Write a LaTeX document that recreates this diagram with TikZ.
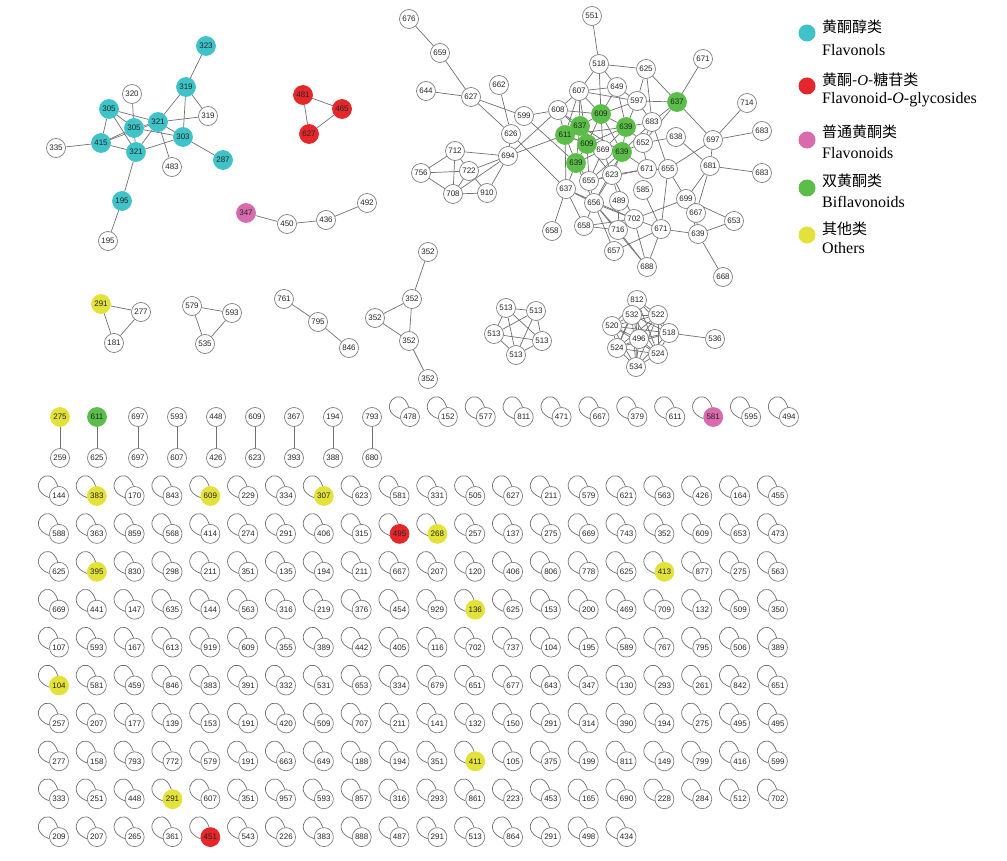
\documentclass[tikz,border=0pt]{standalone}
\usepackage{fontspec}
\setmainfont{Liberation Serif}
\newfontfamily\numfont{Liberation Sans}
\newfontfamily\cjk{Noto Sans CJK SC}
\usetikzlibrary{backgrounds}
\definecolor{fw}{HTML}{FFFFFF}\definecolor{dw}{HTML}{808080}
\definecolor{fc}{HTML}{3EC3C8}\definecolor{dc}{HTML}{3EC3C8}
\definecolor{fr}{HTML}{E5262B}\definecolor{dr}{HTML}{E5262B}
\definecolor{fp}{HTML}{D96AAE}\definecolor{dp}{HTML}{D96AAE}
\definecolor{fg}{HTML}{5BBE48}\definecolor{dg}{HTML}{5BBE48}
\definecolor{fy}{HTML}{E3E23A}\definecolor{dy}{HTML}{E3E23A}
\definecolor{edgegray}{HTML}{707070}
\tikzset{
  v/.style={circle,draw=dw,fill=white,line width=0.7pt,minimum size=19pt,inner sep=0pt,
    font={\numfont\fontsize{8pt}{8pt}\selectfont},text=black!85},
  nc/.style={fill=f#1,draw=d#1},
  e/.style={draw=edgegray,line width=0.7pt},
  legdot/.style={circle,minimum size=17pt,inner sep=0pt},
  legzh/.style={anchor=west,inner sep=0pt,font={\cjk\fontsize{15pt}{15pt}\selectfont}},
  legen/.style={anchor=west,inner sep=0pt,font={\fontsize{16pt}{16pt}\selectfont}}
}
\newcommand\mygridrow[2]{%
  \foreach \lab/\cl [count=\i from 0] in {#2} {
    \node[v,nc=\cl] (g#1-\i) at ({59+37.84*\i},{496+37.9*#1}) {\lab};
    \draw[e] (g#1-\i.190) .. controls +(160:27pt) and +(108:27pt) .. (g#1-\i.97);
  }}
\begin{document}
\begin{tikzpicture}[x=1pt,y=-1pt]
\useasboundingbox (0,0) rectangle (1007,861);
% ---------- cluster A: flavonols
\node[v,nc=c] (a323) at (206,46) {323};
\node[v,nc=c] (a319) at (186,87) {319};
\node[v] (a320) at (132,94) {320};
\node[v,nc=c] (a305) at (109,109) {305};
\node[v] (a319w) at (208,116) {319};
\node[v,nc=c] (a321) at (158,122) {321};
\node[v,nc=c] (a305c) at (134,128) {305};
\node[v,nc=c] (a303) at (183,137) {303};
\node[v,nc=c] (a415) at (101,143) {415};
\node[v] (a335) at (56,148) {335};
\node[v,nc=c] (a321b) at (136,152) {321};
\node[v] (a483) at (172,167) {483};
\node[v,nc=c] (a287) at (223,160) {287};
\node[v,nc=c] (a195) at (122,201) {195};
\node[v] (a195w) at (108,241) {195};
% red triangle
\node[v,nc=r] (r481) at (303,95) {481};
\node[v,nc=r] (r465) at (342,109) {465};
\node[v,nc=r] (r627) at (309,134) {627};
% pink chain
\node[v,nc=p] (p347) at (246,213) {347};
\node[v] (p450) at (287,224) {450};
\node[v] (p436) at (326,220) {436};
\node[v] (p492) at (367,203) {492};
% ---------- big cluster B
\node[v] (b676) at (409,19) {676};
\node[v] (b659) at (440,53) {659};
\node[v] (b644) at (426,91) {644};
\node[v] (b627) at (471,97) {627};
\node[v] (b662) at (499,85) {662};
\node[v] (b599) at (524,116) {599};
\node[v] (b626) at (511,134) {626};
\node[v] (b608) at (558,110) {608};
\node[v] (b551) at (592,16) {551};
\node[v] (b518) at (599,64) {518};
\node[v] (b625) at (646,69) {625};
\node[v] (b671t) at (703,59) {671};
\node[v] (b607) at (579,91) {607};
\node[v] (b649) at (617,87) {649};
\node[v] (b597) at (637,101) {597};
\node[v,nc=g] (b637G) at (677,102) {637};
\node[v] (b714) at (747,103) {714};
\node[v] (b683) at (652,122) {683};
\node[v] (b652) at (643,143) {652};
\node[v] (b638) at (676,137) {638};
\node[v] (b697) at (713,140) {697};
\node[v] (b683r) at (762,131) {683};
\node[v] (b669) at (603,150) {669};
\node[v] (b655) at (589,181) {655};
\node[v] (b623) at (612,175) {623};
\node[v] (b671m) at (647,169) {671};
\node[v] (b655r) at (668,169) {655};
\node[v] (b681) at (710,166) {681};
\node[v] (b683lr) at (762,173) {683};
\node[v] (b637w) at (566,189) {637};
\node[v] (b489) at (619,201) {489};
\node[v] (b585) at (643,190) {585};
\node[v] (b656) at (594,203) {656};
\node[v] (b699) at (686,199) {699};
\node[v] (b667) at (696,213) {667};
\node[v] (b653) at (734,221) {653};
\node[v] (b702) at (634,219) {702};
\node[v] (b658l) at (552,231) {658};
\node[v] (b658) at (584,226) {658};
\node[v] (b716) at (618,230) {716};
\node[v] (b671l) at (661,229) {671};
\node[v] (b639l) at (698,234) {639};
\node[v] (b657) at (614,251) {657};
\node[v] (b688) at (647,267) {688};
\node[v] (b668) at (723,277) {668};
\node[v] (b712) at (455,151) {712};
\node[v] (b694) at (508,156) {694};
\node[v] (b756) at (421,173) {756};
\node[v] (b722) at (469,171) {722};
\node[v] (b708) at (453,194) {708};
\node[v] (b910) at (487,193) {910};
\node[v,nc=g] (b609G) at (601,114) {609};
\node[v,nc=g] (b637g) at (580,126) {637};
\node[v,nc=g] (b639G) at (626,127) {639};
\node[v,nc=g] (b611) at (565,135) {611};
\node[v,nc=g] (b609g) at (587,144) {609};
\node[v,nc=g] (b639g) at (622,152) {639};
\node[v,nc=g] (b639L) at (576,163) {639};
% ---------- 352 cluster
\node[v] (c352t) at (428,252) {352};
\node[v] (c352a) at (412,299) {352};
\node[v] (c352b) at (375,318) {352};
\node[v] (c352c) at (409,341) {352};
\node[v] (c352d) at (428,379) {352};
% small triangles / chain
\node[v,nc=y] (d291) at (101,304) {291};
\node[v] (d277) at (141,312) {277};
\node[v] (d181) at (114,343) {181};
\node[v] (e579) at (192,306) {579};
\node[v] (e593) at (232,313) {593};
\node[v] (e535) at (205,344) {535};
\node[v] (f761) at (284,299) {761};
\node[v] (f795) at (318,322) {795};
\node[v] (f846) at (349,348) {846};
% K5
\node[v] (k1) at (506,308) {513};
\node[v] (k2) at (536,311) {513};
\node[v] (k3) at (494,334) {513};
\node[v] (k4) at (542,341) {513};
\node[v] (k5) at (516,355) {513};
% dense cluster m
\node[v] (m812) at (637,300) {812};
\node[v] (m532) at (632,315) {532};
\node[v] (m522) at (658,315) {522};
\node[v] (m520) at (612,326) {520};
\node[v] (m518) at (669,333) {518};
\node[v] (m524l) at (617,348) {524};
\node[v] (m524r) at (658,354) {524};
\node[v] (m534) at (636,367) {534};
\node[v] (m496) at (639,339) {496};
\node[v] (m536) at (715,339) {536};
% ---------- pairs row
\foreach \up/\uc/\dn [count=\i from 0] in {275/y/259,611/g/625,697/w/697,593/w/607,448/w/426,609/w/623,367/w/393,194/w/388,793/w/680}{
  \pgfmathsetmacro\px{\i==0 ? 60 : (\i==1 ? 97 : 138+39*(\i-2))}
  \node[v,nc=\uc] (qu\i) at (\px,417) {\up};
  \node[v] (qd\i) at (\px,458) {\dn};
  \begin{scope}[on background layer]\draw[e] (qu\i) -- (qd\i);\end{scope}
}
% single loops row
\foreach \lab/\cl [count=\i from 0] in {478/w,152/w,577/w,811/w,471/w,667/w,379/w,611/w,581/p,595/w,494/w}{
  \node[v,nc=\cl] (s\i) at ({410+37.9*\i},417) {\lab};
  \draw[e] (s\i.190) .. controls +(160:27pt) and +(108:27pt) .. (s\i.97);
}
% ---------- grid
\mygridrow{0}{144/w,383/y,170/w,843/w,609/y,229/w,334/w,307/y,623/w,581/w,331/w,505/w,627/w,211/w,579/w,621/w,563/w,426/w,164/w,455/w}
\mygridrow{1}{588/w,363/w,859/w,568/w,414/w,274/w,291/w,406/w,315/w,495/r,268/y,257/w,137/w,275/w,669/w,743/w,352/w,609/w,653/w,473/w}
\mygridrow{2}{625/w,395/y,830/w,298/w,211/w,351/w,135/w,194/w,211/w,667/w,207/w,120/w,406/w,806/w,778/w,625/w,413/y,877/w,275/w,563/w}
\mygridrow{3}{669/w,441/w,147/w,635/w,144/w,563/w,316/w,219/w,376/w,454/w,929/w,136/y,625/w,153/w,200/w,469/w,709/w,132/w,509/w,350/w}
\mygridrow{4}{107/w,593/w,167/w,613/w,919/w,609/w,355/w,389/w,442/w,405/w,116/w,702/w,737/w,104/w,195/w,589/w,767/w,795/w,506/w,389/w}
\mygridrow{5}{104/y,581/w,459/w,846/w,383/w,391/w,332/w,531/w,653/w,334/w,679/w,651/w,677/w,643/w,347/w,130/w,293/w,261/w,842/w,651/w}
\mygridrow{6}{257/w,207/w,177/w,139/w,153/w,191/w,420/w,509/w,707/w,211/w,141/w,132/w,150/w,291/w,314/w,390/w,194/w,275/w,495/w,495/w}
\mygridrow{7}{277/w,158/w,793/w,772/w,579/w,191/w,663/w,649/w,188/w,194/w,351/w,411/y,105/w,375/w,199/w,811/w,149/w,799/w,416/w,599/w}
\mygridrow{8}{333/w,251/w,448/w,291/y,607/w,351/w,957/w,593/w,857/w,316/w,293/w,861/w,223/w,453/w,165/w,690/w,228/w,284/w,512/w,702/w}
\mygridrow{9}{209/w,207/w,265/w,361/w,451/r,543/w,226/w,383/w,888/w,487/w,291/w,513/w,864/w,291/w,498/w,434/w}
% ---------- edges
\begin{scope}[on background layer]
\foreach \a/\b in {a323/a319,a319/a321,a319/a303,a319/a319w,a320/a305c,a305/a321,a305/a305c,a305/a415,a305/a321b,
  a321/a319w,a321/a305c,a321/a303,a321/a321b,a321/a483,a321/a415,a305c/a303,a305c/a321b,a305c/a415,a303/a321b,
  a303/a287,a415/a321b,a415/a335,a321b/a195,a195/a195w,
  r481/r465,r465/r627,r627/r481,p347/p450,p450/p436,p436/p492,
  c352t/c352a,c352a/c352b,c352a/c352c,c352b/c352c,c352c/c352d,
  d291/d277,d277/d181,d181/d291,e579/e593,e593/e535,e535/e579,f761/f795,f795/f846,m518/m536}
  \draw[e] (\a) -- (\b);
\foreach \a/\b in {b676/b659,b659/b627,b644/b627,b627/b599,b627/b626,b662/b626,b626/b637w,b599/b608,b599/b639L,
  b694/b608,b694/b611,b694/b712,b694/b722,b694/b708,b694/b910,b694/b626,b712/b722,b712/b708,b712/b756,
  b756/b708,b756/b722,b722/b910,b722/b708,b708/b910,
  b551/b518,b518/b625,b518/b607,b518/b609G,b518/b649,b625/b597,b625/b637G,b625/b683,b671t/b637G,
  b607/b649,b607/b597,b607/b608,b607/b637g,b607/b611,b607/b609G,b607/b609g,b649/b597,b649/b609G,b649/b639G,
  b597/b637G,b597/b683,b597/b639G,b597/b609G,b637G/b697,b637G/b683,b637G/b652,b714/b697,b683r/b697,
  b697/b655r,b697/b681,b608/b611,b608/b637g,b608/b609G,b608/b669,b611/b609g,b611/b639L,b611/b637g,
  b611/b639G,b611/b669,b611/b637w,b637g/b609G,b637g/b609g,b637g/b639L,b637g/b639g,b637g/b669,
  b609G/b639G,b609G/b609g,b609G/b669,b609G/b639g,b639G/b683,b639G/b652,b639G/b609g,b639G/b639g,
  b639G/b669,b609g/b639L,b609g/b669,b609g/b639g,b609g/b655,b609g/b623,b669/b639g,b669/b623,b669/b655,
  b639g/b652,b639g/b623,b639g/b655,b639g/b671m,b639g/b656,b639L/b655,b639L/b656,b639L/b669,
  b683/b652,b683/b655r,b683/b639g,b652/b638,b652/b671m,b638/b681,b681/b683lr,b681/b699,b681/b667,
  b655r/b671m,b655r/b699,b655r/b671l,b623/b489,b623/b656,b623/b655,b623/b671m,b623/b702,b671m/b655,
  b637w/b656,b637w/b702,b637w/b658l,b637w/b658,b637w/b639L,b656/b716,b656/b702,b656/b658,b656/b657,
  b656/b688,b656/b655,b585/b671l,b702/b671l,b702/b699,b702/b658,b702/b688,b702/b716,b699/b667,
  b699/b653,b699/b639l,b667/b639l,b653/b639l,b671l/b639l,b671l/b688,b671l/b657,b716/b658,b716/b688,
  b639l/b668,b489/b716}
  \draw[e] (\a) -- (\b);
\foreach \a [count=\i] in {k1,k2,k3,k4,k5}
  \foreach \b [count=\j] in {k1,k2,k3,k4,k5}
    {\ifnum\j>\i \draw[e] (\a) -- (\b);\fi}
\foreach \a [count=\i] in {m812,m532,m522,m520,m518,m496,m524l,m524r,m534}
  \foreach \b [count=\j] in {m812,m532,m522,m520,m518,m496,m524l,m524r,m534}
    {\ifnum\j>\i \draw[e] (\a) -- (\b);\fi}
\end{scope}
% ---------- legend
\node[legdot,fill=fc] (L1) at (807,33) {};
\node[legzh] (L1z) at (822,27) {黄酮醇类};
\node[legen] (L1e) at (822,50) {Flavonols};
\node[legdot,fill=fr] (L2) at (807,86) {};
\node[legzh] (L2z) at (822,80) {黄酮-\textrm{\itshape O}-糖苷类};
\node[legen] (L2e) at (822,100) {Flavonoid-\textit{O}-glycosides};
\node[legdot,fill=fp] (L3) at (807,140) {};
\node[legzh] (L3z) at (822,132) {普通黄酮类};
\node[legen] (L3e) at (822,153) {Flavonoids};
\node[legdot,fill=fg] (L4) at (807,188) {};
\node[legzh] (L4z) at (822,181) {双黄酮类};
\node[legen] (L4e) at (822,202) {Biflavonoids};
\node[legdot,fill=fy] (L5) at (807,235) {};
\node[legzh] (L5z) at (822,229) {其他类};
\node[legen] (L5e) at (822,248) {Others};
\end{tikzpicture}
\end{document}
